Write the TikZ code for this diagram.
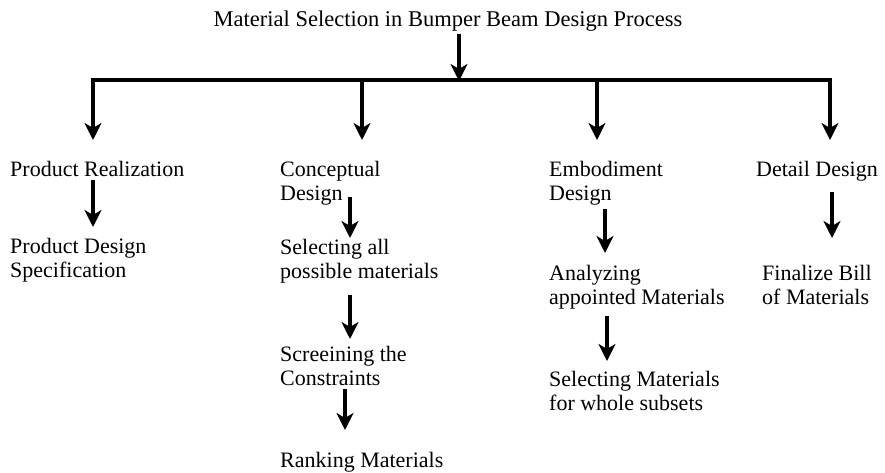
\documentclass[tikz,border=0pt]{standalone}
\usepackage{fontspec}
\setmainfont{Liberation Serif}
\usetikzlibrary{arrows.meta}
\begin{document}
\begin{tikzpicture}[x=1pt,y=-1pt,
  lbl/.style={anchor=base west,inner sep=0pt,align=left,
    font=\fontsize{22}{24}\selectfont},
  ttl/.style={anchor=base,inner sep=0pt,font=\fontsize{22.5}{24}\selectfont},
  arr/.style={line width=3.5pt,-{Stealth[length=17pt,width=17pt,inset=5pt]}},
  bus/.style={line width=4pt}]
\useasboundingbox (0,0) rectangle (885,473);

% title and branching bus
\node[ttl] (title) at (448,27) {Material Selection in Bumper Beam Design Process};
\coordinate (t0) at (459,34);
\coordinate (t1) at (459,81);
\coordinate (bl) at (93,80);
\coordinate (br) at (830,80);
\coordinate (d1) at (93,140);
\coordinate (d2b) at (362,80);
\coordinate (d2) at (362,140);
\coordinate (d3b) at (597,80);
\coordinate (d3) at (597,140);
\coordinate (d4) at (830,140);
\draw[bus,line cap=rect] (bl) -- (br);
\draw[arr] (t0) -- (t1);
\draw[arr] (bl) -- (d1);
\draw[arr] (d2b) -- (d2);
\draw[arr] (d3b) -- (d3);
\draw[arr] (br) -- (d4);

% column 1 (multi-line labels are placed by the baseline of their last line)
\node[lbl] (pr) at (10,176) {Product Realization};
\node[lbl] (pds) at (10,277) {Product Design\\Specification};
\coordinate (a1s) at (93,180);
\coordinate (a1e) at (93,227);
\draw[arr] (a1s) -- (a1e);

% column 2
\node[lbl] (cd) at (280,200) {Conceptual\\Design};
\node[lbl] (sam) at (280,278) {Selecting all\\possible materials};
\node[lbl] (stc) at (280,385) {Screeining the\\Constraints};
\node[lbl] (rm) at (280,467) {Ranking Materials};
\coordinate (a2s) at (350,197);
\coordinate (a2e) at (350,238);
\coordinate (a3s) at (350,295);
\coordinate (a3e) at (350,339);
\coordinate (a4s) at (345,389);
\coordinate (a4e) at (345,430);
\draw[arr] (a2s) -- (a2e);
\draw[arr] (a3s) -- (a3e);
\draw[arr] (a4s) -- (a4e);

% column 3
\node[lbl] (ed) at (549,200) {Embodiment\\Design};
\node[lbl] (aam) at (549,304) {Analyzing\\appointed Materials};
\node[lbl] (smw) at (549,410) {Selecting Materials\\for whole subsets};
\coordinate (a5s) at (605,209);
\coordinate (a5e) at (605,253);
\coordinate (a6s) at (607,316);
\coordinate (a6e) at (607,361);
\draw[arr] (a5s) -- (a5e);
\draw[arr] (a6s) -- (a6e);

% column 4
\node[lbl] (dd) at (756,176) {Detail Design};
\node[lbl] (fbm) at (762,304) {Finalize Bill\\of Materials};
\coordinate (a7s) at (832,192);
\coordinate (a7e) at (832,238);
\draw[arr] (a7s) -- (a7e);
\end{tikzpicture}
\end{document}
